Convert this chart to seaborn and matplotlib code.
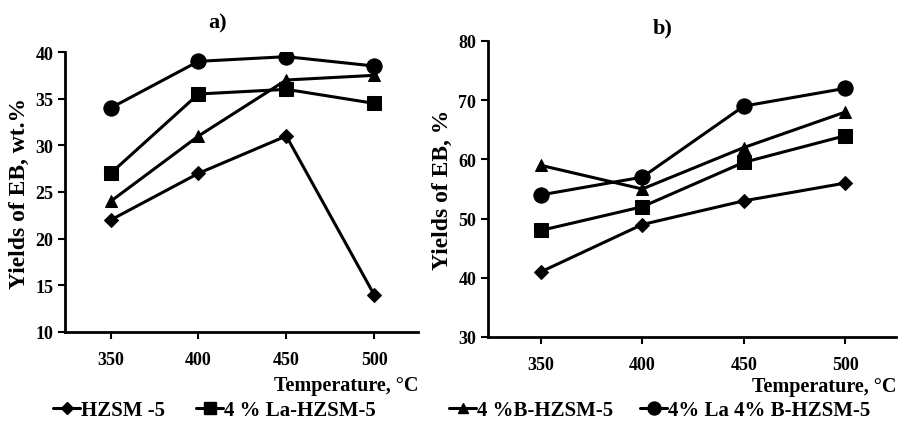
import matplotlib
matplotlib.use("Agg")
import matplotlib.pyplot as plt
import seaborn as sns
import pandas as pd
from matplotlib.lines import Line2D

temps = [350, 400, 450, 500]
series = ["HZSM -5", "4 % La-HZSM-5", "4 %B-HZSM-5", "4% La 4% B-HZSM-5"]
yield_a_hzsm = [22, 27, 31, 14]
yield_a_la = [27, 35.5, 36, 34.5]
yield_a_b = [24, 31, 37, 37.5]
yield_a_lab = [34, 39, 39.5, 38.5]
yield_b_hzsm = [41, 49, 53, 56]
yield_b_la = [48, 52, 59.5, 64]
yield_b_b = [59, 55, 62, 68]
yield_b_lab = [54, 57, 69, 72]

sns.set_theme(style="ticks")
plt.rcParams['font.family'] = ['Liberation Serif', 'DejaVu Serif']
plt.rcParams['font.weight'] = 'bold'
for k in ['text.color', 'axes.labelcolor', 'xtick.color', 'ytick.color', 'axes.edgecolor']:
    plt.rcParams[k] = 'black'

markers = {"HZSM -5": "D", "4 % La-HZSM-5": "s", "4 %B-HZSM-5": "^", "4% La 4% B-HZSM-5": "o"}
msizes = {"HZSM -5": 7, "4 % La-HZSM-5": 10, "4 %B-HZSM-5": 9, "4% La 4% B-HZSM-5": 11}

def build(vals):
    rows = []
    for name, v in zip(series, vals):
        for t, y in zip(temps, v):
            rows.append({"T": t, "Y": y, "S": name})
    return pd.DataFrame(rows)

df_a = build([yield_a_hzsm, yield_a_la, yield_a_b, yield_a_lab])
df_b = build([yield_b_hzsm, yield_b_la, yield_b_b, yield_b_lab])

W, H = 899, 427
fig = plt.figure(figsize=(W / 100, H / 100), dpi=100)

def px_axes(x0, x1, ytop, ybot):
    return fig.add_axes([x0 / W, 1 - ybot / H, (x1 - x0) / W, (ybot - ytop) / H])

ax1 = px_axes(65, 418, 53, 333)
ax2 = px_axes(488, 896, 42, 338)

for ax, df in [(ax1, df_a), (ax2, df_b)]:
    for name in series:
        sub = df[df.S == name]
        sns.lineplot(data=sub, x="T", y="Y", ax=ax, color="black", lw=2.2,
                     marker=markers[name], markersize=msizes[name],
                     markeredgecolor="black", markerfacecolor="black", legend=False)
    ax.set_xlim(324, 525)
    ax.set_xticks(temps)
    for s in ["top", "right"]:
        ax.spines[s].set_visible(False)
    for s in ["left", "bottom"]:
        ax.spines[s].set_linewidth(2)
    ax.tick_params(axis="both", direction="out", length=5, width=1.5, labelsize=13)
    for lbl in ax.get_xticklabels() + ax.get_yticklabels():
        lbl.set_fontweight("bold")
    ax.tick_params(axis="x", pad=9)

ax1.set_xlabel("Temperature, °C", fontsize=14.5, fontweight="bold", loc="right", labelpad=5)
ax2.set_xlabel("Temperature, °C", fontsize=14.5, fontweight="bold", loc="right", labelpad=2)

ax1.set_ylim(10, 40)
ax1.set_yticks([10, 15, 20, 25, 30, 35, 40])
ax2.set_ylim(30, 80)
ax2.set_yticks([30, 40, 50, 60, 70, 80])
ax1.set_ylabel("Yields of EB, wt.%", fontsize=17, fontweight="bold", labelpad=4)
ax2.set_ylabel("Yields of EB, %", fontsize=17, fontweight="bold", labelpad=4)

fig.text(218 / W, 1 - 23 / H, "a)", ha="center", va="center", fontsize=16, fontweight="bold")
fig.text(663 / W, 1 - 28 / H, "b)", ha="center", va="center", fontsize=16, fontweight="bold")

def mk(name):
    return Line2D([], [], color="black", lw=2.2, marker=markers[name],
                  markersize=msizes[name] * 0.85, markerfacecolor="black")

fig.legend([mk(series[0]), mk(series[1])], series[:2], loc="center left",
           bbox_to_anchor=(53 / W, 1 - 411 / H), ncol=2, frameon=False,
           handlelength=1.3, handletextpad=0.05, columnspacing=1.5,
           borderpad=0, borderaxespad=0, prop={"weight": "bold", "size": 15})
fig.legend([mk(series[2]), mk(series[3])], series[2:], loc="center left",
           bbox_to_anchor=(449 / W, 1 - 411 / H), ncol=2, frameon=False,
           handlelength=1.3, handletextpad=0.05, columnspacing=1.3,
           borderpad=0, borderaxespad=0, prop={"weight": "bold", "size": 15})

fig.savefig("out.png", dpi=100)
